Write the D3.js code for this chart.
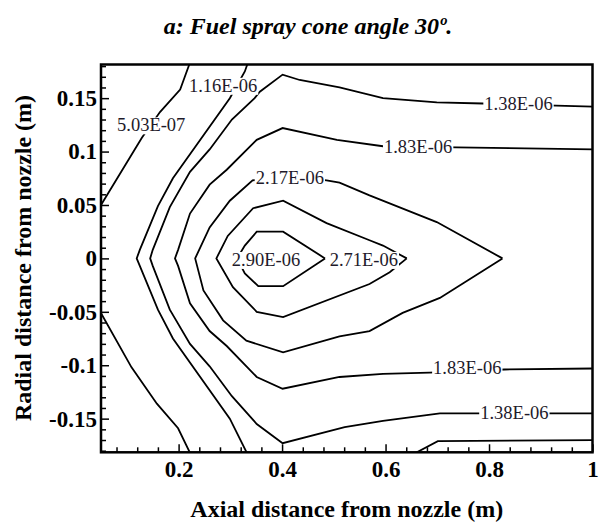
<!DOCTYPE html>
<html>
<head>
<meta charset="utf-8">
<script src="https://d3js.org/d3.v7.min.js"></script>
<style>
  body { margin: 0; background: #fff; }
  svg text { font-family: "Liberation Serif", "Times New Roman", serif; }
</style>
</head>
<body>
<svg id="chart" width="601" height="522"></svg>

<script>
// contour lines, points are [axial distance (m), radial distance (m)]
var line503a = [[0.045,0.046],[0.129,0.113],[0.164,0.137],[0.203,0.158],[0.212,0.170],[0.224,0.186]];
var line503b = [[0.045,-0.047],[0.109,-0.102],[0.158,-0.136],[0.199,-0.159],[0.226,-0.186]];
var line116 = [[0.336,0.186],[0.328,0.175],[0.299,0.150],[0.189,0.075],[0.160,0.049],[0.125,0.008],
  [0.119,0],[0.125,-0.007],[0.160,-0.048],[0.189,-0.075],[0.299,-0.150],[0.336,-0.186]];
var line138 = [[1.01,0.142],[0.930,0.143],[0.788,0.145],[0.699,0.146],[0.595,0.150],[0.511,0.160],
  [0.434,0.167],[0.401,0.172],[0.357,0.156],[0.347,0.150],[0.303,0.130],[0.260,0.102],[0.222,0.081],
  [0.183,0.048],[0.150,0.008],[0.145,0],[0.150,-0.007],[0.183,-0.048],[0.222,-0.080],[0.260,-0.101],
  [0.303,-0.129],[0.351,-0.155],[0.401,-0.173],[0.521,-0.158],[0.595,-0.152],[0.705,-0.145],
  [0.778,-0.145],[1.01,-0.145]];
var line183 = [[1.01,0.102],[0.737,0.104],[0.595,0.105],[0.506,0.111],[0.401,0.122],[0.351,0.111],
  [0.293,0.083],[0.260,0.069],[0.222,0.042],[0.199,0.008],[0.193,0],[0.199,-0.007],[0.222,-0.042],
  [0.260,-0.068],[0.293,-0.082],[0.351,-0.111],[0.401,-0.122],[0.511,-0.111],[0.595,-0.108],
  [0.685,-0.107],[0.830,-0.104],[1.01,-0.103]];
var line217 = [[0.826,0],[0.699,0.034],[0.569,0.059],[0.511,0.071],[0.486,0.073],[0.415,0.077],
  [0.343,0.073],[0.299,0.054],[0.260,0.029],[0.232,0],[0.248,-0.030],[0.286,-0.058],[0.331,-0.077],
  [0.402,-0.088],[0.511,-0.073],[0.569,-0.068],[0.633,-0.051],[0.705,-0.037],[0.826,0]];
var line271 = [[0.641,0],[0.595,0.012],[0.569,0.017],[0.486,0.033],[0.402,0.054],[0.344,0.047],
  [0.295,0.021],[0.273,0],[0.305,-0.027],[0.351,-0.050],[0.402,-0.055],[0.569,-0.024],
  [0.608,-0.013],[0.641,0]];
var line290 = [[0.483,0],[0.402,0.025],[0.351,0.025],[0.328,0.012],[0.313,0],[0.328,-0.014],
  [0.354,-0.026],[0.402,-0.026],[0.483,0]];
var lineLow = [[0.643,-0.186],[0.701,-0.171],[1.01,-0.170]];

var contours = [line503a, line503b, line116, line138, line183, line217, line271, line290, lineLow];

// contour labels: text, axial, radial
var labels = [
  ["5.03E-07", 0.147, 0.125],
  ["1.16E-06", 0.286, 0.162],
  ["1.38E-06", 0.857, 0.145],
  ["1.83E-06", 0.663, 0.105],
  ["2.17E-06", 0.415, 0.076],
  ["2.90E-06", 0.369, -0.001],
  ["2.71E-06", 0.558, -0.001],
  ["1.83E-06", 0.758, -0.102],
  ["1.38E-06", 0.849, -0.144]
];

var xMajor = [0.2, 0.4, 0.6, 0.8, 1];
var xTickLabels = ["0.2", "0.4", "0.6", "0.8", "1"];
var yMajor = [-0.15, -0.1, -0.05, 0, 0.05, 0.1, 0.15];
var yTickLabels = ["-0.15", "-0.1", "-0.05", "0", "0.05", "0.1", "0.15"];

var svg = d3.select("#chart");

var pLeft = 101, pRight = 592.5, pTop = 64.5, pBottom = 452.3;

var x = d3.scaleLinear().domain([0.05, 1.0]).range([pLeft, pRight]);
var y = d3.scaleLinear().domain([-0.1815, 0.1815]).range([pBottom, pTop]);

svg.append("defs").append("clipPath").attr("id", "plot")
  .append("rect")
  .attr("x", pLeft).attr("y", pTop)
  .attr("width", pRight - pLeft).attr("height", pBottom - pTop);

// contour lines
var line = d3.line().x(function(d) { return x(d[0]); }).y(function(d) { return y(d[1]); });

svg.append("g")
  .attr("clip-path", "url(#plot)")
  .selectAll("path")
  .data(contours)
  .enter()
  .append("path")
  .attr("d", line)
  .attr("fill", "none")
  .attr("stroke", "#000")
  .attr("stroke-width", 1.8)
  .attr("stroke-linejoin", "miter");

// labels sit on a white patch so the line looks broken
var lab = svg.append("g").selectAll("g")
  .data(labels)
  .enter()
  .append("g");

lab.append("text")
  .attr("x", function(d) { return x(d[1]); })
  .attr("y", function(d) { return y(d[2]); })
  .attr("dy", "0.35em")
  .attr("text-anchor", "middle")
  .style("font-size", "18.5px")
  .attr("fill", "#1e1a2a")
  .text(function(d) { return d[0]; });

lab.each(function() {
  var g = d3.select(this);
  var b = g.select("text").node().getBBox();
  g.insert("rect", "text")
    .attr("x", b.x - 1).attr("y", b.y + 2)
    .attr("width", b.width + 2).attr("height", b.height - 3)
    .attr("fill", "#fff");
});

// axes, ticks pointing inward
var xMinor = d3.range(2, 25).filter(function(i) { return i % 5 != 0; }).map(function(i) { return i * 0.04; });
var yMinor = d3.range(-18, 19).filter(function(i) { return i % 5 != 0; }).map(function(i) { return i / 100; });

function styleAxis(g) {
  g.select(".domain").remove();
  g.selectAll("line").attr("stroke", "#000").attr("stroke-width", 1.5);
  g.selectAll("text")
    .attr("fill", "#000")
    .style("font-family", '"Liberation Serif", "Times New Roman", serif')
    .style("font-size", "23px")
    .style("font-weight", "bold");
}

svg.append("g")
  .attr("transform", "translate(0," + pBottom + ")")
  .call(d3.axisBottom(x).tickValues(xMinor).tickSize(-5).tickFormat(""))
  .call(styleAxis);

svg.append("g")
  .attr("transform", "translate(0," + pBottom + ")")
  .call(d3.axisBottom(x).tickValues(xMajor).tickSize(-8).tickPadding(8)
    .tickFormat(function(d, i) { return xTickLabels[i]; }))
  .call(styleAxis);

svg.append("g")
  .attr("transform", "translate(" + pLeft + ",0)")
  .call(d3.axisLeft(y).tickValues(yMinor).tickSize(-5).tickFormat(""))
  .call(styleAxis);

svg.append("g")
  .attr("transform", "translate(" + pLeft + ",0)")
  .call(d3.axisLeft(y).tickValues(yMajor).tickSize(-8).tickPadding(4)
    .tickFormat(function(d, i) { return yTickLabels[i]; }))
  .call(styleAxis);

// frame
svg.append("rect")
  .attr("x", pLeft).attr("y", pTop)
  .attr("width", pRight - pLeft).attr("height", pBottom - pTop)
  .attr("fill", "none")
  .attr("stroke", "#000")
  .attr("stroke-width", 2.5);

// titles
svg.append("text")
  .attr("x", 308).attr("y", 34)
  .attr("text-anchor", "middle")
  .style("font-size", "24px")
  .style("font-weight", "bold")
  .style("font-style", "italic")
  .text("a: Fuel spray cone angle 30º.");

svg.append("text")
  .attr("x", (pLeft + pRight) / 2).attr("y", 517)
  .attr("text-anchor", "middle")
  .style("font-size", "24px")
  .style("font-weight", "bold")
  .text("Axial distance from nozzle (m)");

svg.append("text")
  .attr("transform", "translate(31,258) rotate(-90)")
  .attr("text-anchor", "middle")
  .style("font-size", "24px")
  .style("font-weight", "bold")
  .text("Radial distance from nozzle (m)");
</script>
</body>
</html>
